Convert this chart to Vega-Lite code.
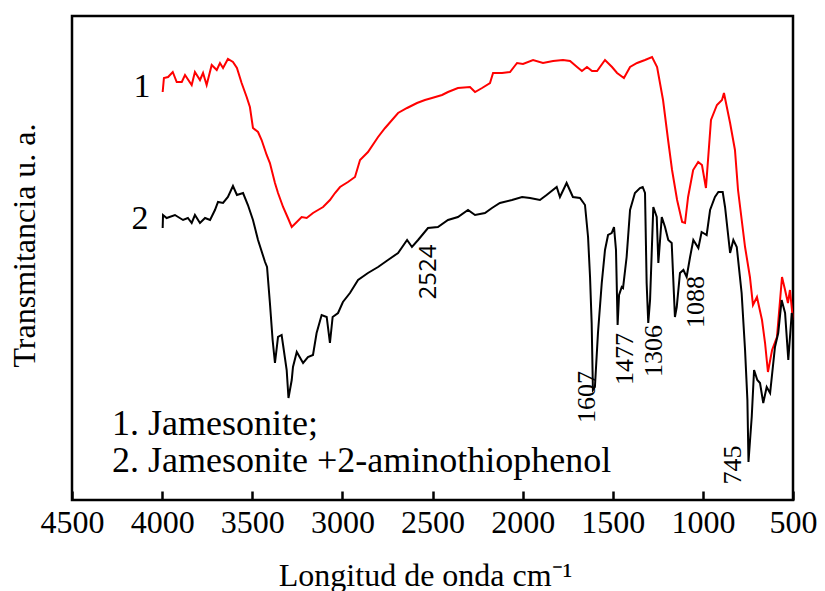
{
  "$schema": "https://vega.github.io/schema/vega-lite/v6.json",
  "width": 721,
  "height": 484,
  "autosize": {"type": "none"},
  "padding": {"left": 72, "top": 16, "right": 32, "bottom": 91},
  "background": "white",
  "config": {"view": {"stroke": "black", "strokeWidth": 2.5}, "font": "Liberation Serif"},
  "datasets": {
    "spectra": [
      {"s":"1","wn":3997,"t":408},{"s":"1","wn":3990,"t":422},{"s":"1","wn":3967,"t":423},{"s":"1","wn":3941,"t":428},{"s":"1","wn":3919,"t":418},{"s":"1","wn":3891,"t":418},{"s":"1","wn":3873,"t":425},{"s":"1","wn":3836,"t":415},{"s":"1","wn":3818,"t":428},{"s":"1","wn":3790,"t":420},{"s":"1","wn":3773,"t":427},{"s":"1","wn":3753,"t":415},{"s":"1","wn":3725,"t":435},{"s":"1","wn":3697,"t":430},{"s":"1","wn":3679,"t":437},{"s":"1","wn":3662,"t":432},{"s":"1","wn":3635,"t":441},{"s":"1","wn":3607,"t":438},{"s":"1","wn":3585,"t":432},{"s":"1","wn":3559,"t":417},{"s":"1","wn":3531,"t":403},{"s":"1","wn":3513,"t":393},{"s":"1","wn":3496,"t":372},{"s":"1","wn":3468,"t":368},{"s":"1","wn":3448,"t":360},{"s":"1","wn":3420,"t":345},{"s":"1","wn":3402,"t":337},{"s":"1","wn":3374,"t":317},{"s":"1","wn":3357,"t":307},{"s":"1","wn":3329,"t":293},{"s":"1","wn":3302,"t":282},{"s":"1","wn":3281,"t":273},{"s":"1","wn":3253,"t":278},{"s":"1","wn":3226,"t":283},{"s":"1","wn":3198,"t":282},{"s":"1","wn":3163,"t":287},{"s":"1","wn":3135,"t":290},{"s":"1","wn":3107,"t":293},{"s":"1","wn":3069,"t":300},{"s":"1","wn":3041,"t":307},{"s":"1","wn":3013,"t":313},{"s":"1","wn":2969,"t":318},{"s":"1","wn":2930,"t":323},{"s":"1","wn":2902,"t":340},{"s":"1","wn":2858,"t":348},{"s":"1","wn":2802,"t":363},{"s":"1","wn":2763,"t":372},{"s":"1","wn":2691,"t":387},{"s":"1","wn":2641,"t":392},{"s":"1","wn":2586,"t":397},{"s":"1","wn":2542,"t":400},{"s":"1","wn":2503,"t":402},{"s":"1","wn":2447,"t":405},{"s":"1","wn":2414,"t":408},{"s":"1","wn":2359,"t":412},{"s":"1","wn":2292,"t":413},{"s":"1","wn":2264,"t":408},{"s":"1","wn":2225,"t":412},{"s":"1","wn":2181,"t":417},{"s":"1","wn":2164,"t":427},{"s":"1","wn":2114,"t":427},{"s":"1","wn":2070,"t":428},{"s":"1","wn":2031,"t":437},{"s":"1","wn":1998,"t":436},{"s":"1","wn":1942,"t":440},{"s":"1","wn":1887,"t":437},{"s":"1","wn":1831,"t":439},{"s":"1","wn":1776,"t":440},{"s":"1","wn":1737,"t":439},{"s":"1","wn":1698,"t":433},{"s":"1","wn":1671,"t":429},{"s":"1","wn":1643,"t":433},{"s":"1","wn":1615,"t":429},{"s":"1","wn":1587,"t":429},{"s":"1","wn":1543,"t":440},{"s":"1","wn":1504,"t":433},{"s":"1","wn":1476,"t":427},{"s":"1","wn":1438,"t":422},{"s":"1","wn":1404,"t":433},{"s":"1","wn":1365,"t":437},{"s":"1","wn":1321,"t":440},{"s":"1","wn":1282,"t":443},{"s":"1","wn":1254,"t":433},{"s":"1","wn":1221,"t":400},{"s":"1","wn":1193,"t":360},{"s":"1","wn":1171,"t":330},{"s":"1","wn":1143,"t":300},{"s":"1","wn":1115,"t":278},{"s":"1","wn":1099,"t":277},{"s":"1","wn":1082,"t":303},{"s":"1","wn":1054,"t":330},{"s":"1","wn":1026,"t":338},{"s":"1","wn":1005,"t":335},{"s":"1","wn":983,"t":312},{"s":"1","wn":955,"t":380},{"s":"1","wn":922,"t":395},{"s":"1","wn":894,"t":400},{"s":"1","wn":883,"t":407},{"s":"1","wn":849,"t":377},{"s":"1","wn":822,"t":350},{"s":"1","wn":805,"t":310},{"s":"1","wn":766,"t":253},{"s":"1","wn":739,"t":223},{"s":"1","wn":722,"t":195},{"s":"1","wn":700,"t":203},{"s":"1","wn":672,"t":180},{"s":"1","wn":655,"t":157},{"s":"1","wn":639,"t":128},{"s":"1","wn":616,"t":150},{"s":"1","wn":589,"t":163},{"s":"1","wn":561,"t":223},{"s":"1","wn":544,"t":210},{"s":"1","wn":528,"t":197},{"s":"1","wn":517,"t":210},{"s":"1","wn":500,"t":180},
      {"s":"2","wn":3997,"t":272},{"s":"2","wn":3995,"t":285},{"s":"2","wn":3975,"t":282},{"s":"2","wn":3929,"t":285},{"s":"2","wn":3884,"t":280},{"s":"2","wn":3857,"t":282},{"s":"2","wn":3836,"t":277},{"s":"2","wn":3818,"t":285},{"s":"2","wn":3790,"t":277},{"s":"2","wn":3762,"t":282},{"s":"2","wn":3734,"t":280},{"s":"2","wn":3707,"t":290},{"s":"2","wn":3690,"t":298},{"s":"2","wn":3662,"t":297},{"s":"2","wn":3635,"t":303},{"s":"2","wn":3607,"t":314},{"s":"2","wn":3585,"t":305},{"s":"2","wn":3551,"t":307},{"s":"2","wn":3524,"t":295},{"s":"2","wn":3496,"t":280},{"s":"2","wn":3468,"t":260},{"s":"2","wn":3429,"t":238},{"s":"2","wn":3418,"t":233},{"s":"2","wn":3402,"t":197},{"s":"2","wn":3387,"t":160},{"s":"2","wn":3374,"t":137},{"s":"2","wn":3357,"t":163},{"s":"2","wn":3337,"t":165},{"s":"2","wn":3329,"t":155},{"s":"2","wn":3309,"t":130},{"s":"2","wn":3299,"t":102},{"s":"2","wn":3281,"t":120},{"s":"2","wn":3274,"t":133},{"s":"2","wn":3253,"t":148},{"s":"2","wn":3218,"t":137},{"s":"2","wn":3191,"t":143},{"s":"2","wn":3163,"t":145},{"s":"2","wn":3143,"t":167},{"s":"2","wn":3115,"t":185},{"s":"2","wn":3087,"t":183},{"s":"2","wn":3069,"t":157},{"s":"2","wn":3054,"t":183},{"s":"2","wn":3024,"t":187},{"s":"2","wn":2997,"t":198},{"s":"2","wn":2958,"t":207},{"s":"2","wn":2913,"t":220},{"s":"2","wn":2858,"t":227},{"s":"2","wn":2802,"t":233},{"s":"2","wn":2747,"t":240},{"s":"2","wn":2691,"t":247},{"s":"2","wn":2641,"t":260},{"s":"2","wn":2614,"t":253},{"s":"2","wn":2580,"t":260},{"s":"2","wn":2525,"t":272},{"s":"2","wn":2470,"t":273},{"s":"2","wn":2414,"t":280},{"s":"2","wn":2359,"t":283},{"s":"2","wn":2303,"t":290},{"s":"2","wn":2264,"t":285},{"s":"2","wn":2209,"t":287},{"s":"2","wn":2170,"t":292},{"s":"2","wn":2126,"t":297},{"s":"2","wn":2059,"t":300},{"s":"2","wn":2003,"t":303},{"s":"2","wn":1959,"t":302},{"s":"2","wn":1904,"t":300},{"s":"2","wn":1867,"t":305},{"s":"2","wn":1811,"t":313},{"s":"2","wn":1793,"t":303},{"s":"2","wn":1756,"t":317},{"s":"2","wn":1721,"t":303},{"s":"2","wn":1682,"t":302},{"s":"2","wn":1654,"t":295},{"s":"2","wn":1637,"t":263},{"s":"2","wn":1626,"t":223},{"s":"2","wn":1617,"t":177},{"s":"2","wn":1610,"t":110},{"s":"2","wn":1599,"t":113},{"s":"2","wn":1582,"t":167},{"s":"2","wn":1561,"t":217},{"s":"2","wn":1543,"t":250},{"s":"2","wn":1526,"t":265},{"s":"2","wn":1506,"t":267},{"s":"2","wn":1493,"t":273},{"s":"2","wn":1482,"t":250},{"s":"2","wn":1473,"t":175},{"s":"2","wn":1465,"t":205},{"s":"2","wn":1450,"t":213},{"s":"2","wn":1443,"t":212},{"s":"2","wn":1423,"t":243},{"s":"2","wn":1404,"t":290},{"s":"2","wn":1377,"t":307},{"s":"2","wn":1349,"t":312},{"s":"2","wn":1334,"t":313},{"s":"2","wn":1321,"t":307},{"s":"2","wn":1312,"t":217},{"s":"2","wn":1303,"t":177},{"s":"2","wn":1293,"t":200},{"s":"2","wn":1275,"t":293},{"s":"2","wn":1256,"t":283},{"s":"2","wn":1247,"t":237},{"s":"2","wn":1228,"t":283},{"s":"2","wn":1210,"t":273},{"s":"2","wn":1192,"t":260},{"s":"2","wn":1173,"t":257},{"s":"2","wn":1155,"t":183},{"s":"2","wn":1145,"t":193},{"s":"2","wn":1127,"t":227},{"s":"2","wn":1108,"t":230},{"s":"2","wn":1090,"t":223},{"s":"2","wn":1071,"t":243},{"s":"2","wn":1053,"t":260},{"s":"2","wn":1025,"t":252},{"s":"2","wn":1007,"t":268},{"s":"2","wn":979,"t":265},{"s":"2","wn":960,"t":290},{"s":"2","wn":933,"t":303},{"s":"2","wn":914,"t":308},{"s":"2","wn":890,"t":308},{"s":"2","wn":877,"t":293},{"s":"2","wn":849,"t":247},{"s":"2","wn":831,"t":260},{"s":"2","wn":812,"t":253},{"s":"2","wn":785,"t":207},{"s":"2","wn":766,"t":150},{"s":"2","wn":753,"t":100},{"s":"2","wn":747,"t":38},{"s":"2","wn":729,"t":83},{"s":"2","wn":716,"t":130},{"s":"2","wn":698,"t":120},{"s":"2","wn":683,"t":117},{"s":"2","wn":665,"t":97},{"s":"2","wn":646,"t":113},{"s":"2","wn":627,"t":107},{"s":"2","wn":600,"t":153},{"s":"2","wn":582,"t":167},{"s":"2","wn":563,"t":200},{"s":"2","wn":544,"t":187},{"s":"2","wn":526,"t":140},{"s":"2","wn":507,"t":187},{"s":"2","wn":500,"t":180}
    ],
    "peaks": [
      {"wn":1643,"t":103,"label":"1607"},
      {"wn":1432,"t":141,"label":"1477"},
      {"wn":1271,"t":149,"label":"1306"},
      {"wn":1038,"t":198,"label":"1088"},
      {"wn":833,"t":35,"label":"745"}
    ],
    "peakSans": [
      {"wn":2519,"t":228,"label":"2524"}
    ],
    "curveLabels": [
      {"wn":4112,"t":413,"label":"1"},
      {"wn":4123,"t":281,"label":"2"}
    ],
    "legendText": [
      {"wn":4278,"t":65,"label":"1. Jamesonite;"},
      {"wn":4278,"t":28,"label":"2. Jamesonite +2-aminothiophenol"}
    ]
  },
  "layer": [
    {
      "data": {"name": "spectra"},
      "mark": {"type": "line", "strokeWidth": 2},
      "encoding": {
        "x": {
          "field": "wn", "type": "quantitative",
          "scale": {"domain": [500, 4500], "reverse": true, "nice": false, "zero": false},
          "axis": {
            "values": [4500, 4000, 3500, 3000, 2500, 2000, 1500, 1000, 500],
            "format": "d",
            "title": "Longitud de onda cm⁻¹",
            "domain": false, "grid": false,
            "ticks": true,
            "offset": -9,
            "tickSize": 9, "tickWidth": 2.5, "tickColor": "black", "tickOpacity": 1,
            "labelPadding": 32, "labelBaseline": "alphabetic",
            "labelFont": "Liberation Serif", "labelFontSize": 32, "labelColor": "black",
            "labelFlush": false, "labelOverlap": false,
            "titleFont": "Liberation Serif", "titleFontSize": 32, "titleFontWeight": "normal", "titleColor": "black",
            "titleX": 353, "titleY": 94, "titleBaseline": "alphabetic", "titleAlign": "center",
            "zindex": 1
          }
        },
        "y": {
          "field": "t", "type": "quantitative",
          "scale": {"domain": [0, 484], "nice": false, "zero": false},
          "axis": {
            "title": "Transmitancia u. a.",
            "ticks": false, "labels": false, "domain": false, "grid": false,
            "titleFont": "Liberation Serif", "titleFontSize": 32, "titleFontWeight": "normal", "titleColor": "black",
            "titleX": -48, "titleY": 229, "titleAngle": 270, "titleAlign": "center", "titleBaseline": "middle"
          }
        },
        "color": {"field": "s", "type": "nominal", "scale": {"domain": ["1", "2"], "range": ["#ff0000", "#000000"]}, "legend": null}
      }
    },
    {
      "data": {"name": "peaks"},
      "mark": {"type": "text", "angle": 270, "align": "center", "baseline": "middle", "font": "Liberation Serif", "fontSize": 26, "color": "black"},
      "encoding": {
        "x": {"field": "wn", "type": "quantitative"},
        "y": {"field": "t", "type": "quantitative"},
        "text": {"field": "label"}
      }
    },
    {
      "data": {"name": "peakSans"},
      "mark": {"type": "text", "angle": 270, "align": "center", "baseline": "middle", "font": "Open Sans", "fontSize": 24, "color": "black"},
      "encoding": {
        "x": {"field": "wn", "type": "quantitative"},
        "y": {"field": "t", "type": "quantitative"},
        "text": {"field": "label"}
      }
    },
    {
      "data": {"name": "curveLabels"},
      "mark": {"type": "text", "align": "center", "baseline": "middle", "font": "Liberation Serif", "fontSize": 34, "color": "black"},
      "encoding": {
        "x": {"field": "wn", "type": "quantitative"},
        "y": {"field": "t", "type": "quantitative"},
        "text": {"field": "label"}
      }
    },
    {
      "data": {"name": "legendText"},
      "mark": {"type": "text", "align": "left", "baseline": "alphabetic", "font": "Liberation Serif", "fontSize": 36, "color": "black"},
      "encoding": {
        "x": {"field": "wn", "type": "quantitative"},
        "y": {"field": "t", "type": "quantitative"},
        "text": {"field": "label"}
      }
    }
  ]
}
